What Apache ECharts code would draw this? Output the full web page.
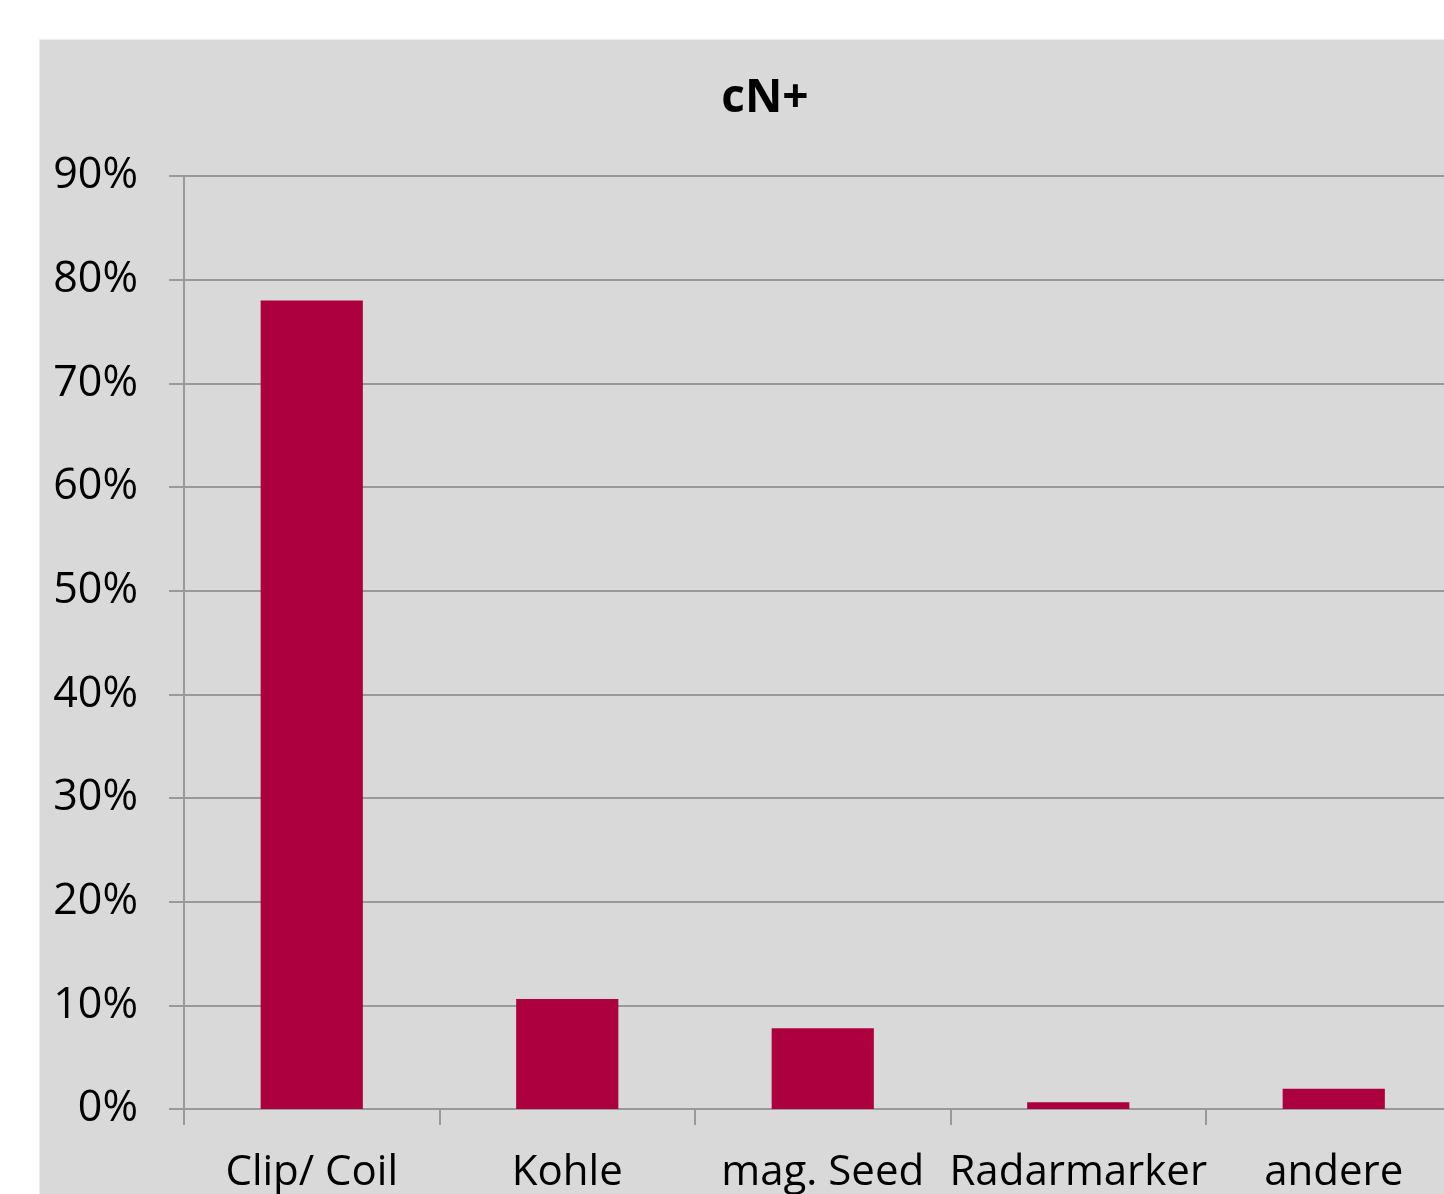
<!DOCTYPE html>
<html>
<head>
<meta charset="utf-8">
<script src="https://cdn.jsdelivr.net/npm/echarts@6/dist/echarts.min.js"></script>
<style>
  html, body { margin: 0; padding: 0; background: #ffffff; overflow: hidden; }
  #chart { width: 1530px; height: 1194px; }
</style>
</head>
<body>
<div id="chart"></div>
<script>
// Categories and shares (percent) for the cN+ group
const categories = ['Clip/ Coil', 'Kohle', 'mag. Seed', 'Radarmarker', 'andere'];
const shares = [78, 10.6, 7.8, 0.65, 1.95];
const yTicks = { min: 0, max: 90, step: 10 };
const chartTitle = 'cN+';

const FONT = '"Open Sans", "Noto Sans", sans-serif';
const chart = echarts.init(document.getElementById('chart'), null, { renderer: 'canvas' });

chart.setOption({
  backgroundColor: '#ffffff',
  animation: false,
  graphic: [{
    type: 'rect',
    z: -10,
    shape: { x: 39.5, y: 39.5, width: 1500, height: 1200 },
    style: { fill: '#d9d9d9', stroke: '#ececec', lineWidth: 1 }
  }],
  title: {
    text: chartTitle,
    left: 'center',
    top: 71,
    textStyle: { fontFamily: FONT, fontSize: 46, fontWeight: 'bold', color: '#000000' }
  },
  grid: { left: 184, right: 68.5, top: 176, bottom: 84, containLabel: false },
  xAxis: {
    type: 'category',
    data: categories,
    axisLine: { show: true, lineStyle: { color: '#999999', width: 2 } },
    axisTick: { show: true, length: 16, lineStyle: { color: '#999999', width: 2 } },
    axisLabel: { fontFamily: FONT, fontSize: 42, color: '#000000', margin: 43, interval: 0 }
  },
  yAxis: {
    type: 'value',
    min: yTicks.min,
    max: yTicks.max,
    interval: yTicks.step,
    axisLine: { show: true, lineStyle: { color: '#999999', width: 2 } },
    axisTick: { show: true, length: 15, lineStyle: { color: '#999999', width: 2 } },
    splitLine: { show: true, lineStyle: { color: '#999999', width: 2 } },
    axisLabel: {
      fontFamily: FONT, fontSize: 43, color: '#000000', margin: 46,
      padding: [6, 0, 0, 0],
      formatter: v => v + '%'
    }
  },
  series: [{
    type: 'bar',
    data: shares,
    barWidth: '40%',
    itemStyle: { color: '#ad003f' }
  }]
});
</script>
</body>
</html>
